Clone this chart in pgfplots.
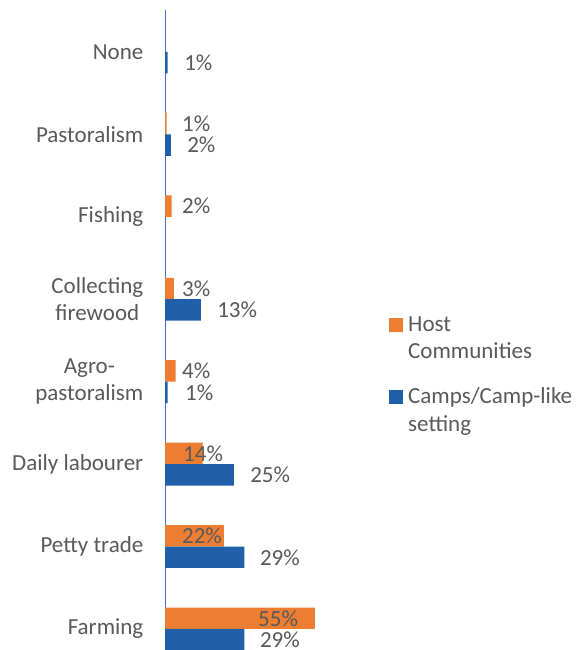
\documentclass[border=0pt]{standalone}
\usepackage{pgfplots}
\pgfplotsset{compat=1.18}
\usepackage{fontspec}
\setmainfont{Carlito}
\definecolor{hostorange}{HTML}{ED7D31}
\definecolor{campblue}{HTML}{2060A8}
\definecolor{axisblue}{HTML}{4472C4}
\definecolor{txtgrey}{HTML}{595959}
\begin{document}
\fontsize{23}{27.5}\selectfont
\begin{tikzpicture}[x=1pt,y=1pt]
\useasboundingbox (0,0) rectangle (577,650);
\begin{axis}[
  at={(165pt,0pt)}, anchor=south west,
  scale only axis, width=163.6pt, height=640.1pt,
  xmin=0, xmax=60, ymin=-0.255, ymax=7.51,
  axis x line=none, axis y line*=left,
  y axis line style={axisblue, line width=1pt},
  xtick=\empty, ytick={0,...,7},
  yticklabels={Farming, Petty trade, Daily labourer, {Agro-\\pastoralism}, {Collecting\\firewood}, Fishing, Pastoralism, None},
  major tick length=0pt,
  ytick style={draw=none},
  yticklabel style={align=center, text=txtgrey, inner sep=0pt, xshift=-21.5pt, font=\fontsize{23}{27.5}\selectfont},
  clip=false,
]
\addplot[xbar, bar width=0.26, bar shift=0.13, fill=hostorange, draw=none]
  coordinates {(55,0) (21.6,1) (13.8,2) (3.9,3) (3.3,4) (2.4,5) (0.6,6)};
\addplot[xbar, bar width=0.26, bar shift=-0.13, fill=campblue, draw=none]
  coordinates {(29.1,0) (29.1,1) (25.3,2) (1,3) (13.2,4) (2.2,6) (1,7)};
\addplot[draw=none, mark=none, forget plot, nodes near coords, nodes near coords align={horizontal},
  point meta=explicit symbolic,
  nodes near coords style={anchor=west, inner sep=0pt, text=txtgrey, font=\fontsize{23}{27.5}\selectfont}]
  coordinates {
  (34.1,0.13) [55\%] (6.2,1.13) [22\%] (6.6,2.13) [14\%] (6.2,3.13) [4\%] (6.2,4.13) [3\%] (6.2,5.13) [2\%] (6.2,6.13) [1\%]
  (34.8,-0.13) [29\%] (34.8,0.87) [29\%] (31.2,1.87) [25\%] (7.3,2.87) [1\%] (19.1,3.87) [13\%] (8.1,5.87) [2\%] (7.0,6.87) [1\%]
  };
\end{axis}
\fill[hostorange] (389,318) rectangle (403,332);
\node[anchor=base west, inner sep=0pt, text=txtgrey] at (408,318) {Host};
\node[anchor=base west, inner sep=0pt, text=txtgrey] at (408,291) {Communities};
\fill[campblue] (389,246) rectangle (403,260);
\node[anchor=base west, inner sep=0pt, text=txtgrey] at (408,246) {Camps/Camp-like};
\node[anchor=base west, inner sep=0pt, text=txtgrey] at (408,218) {setting};
\end{tikzpicture}
\end{document}
